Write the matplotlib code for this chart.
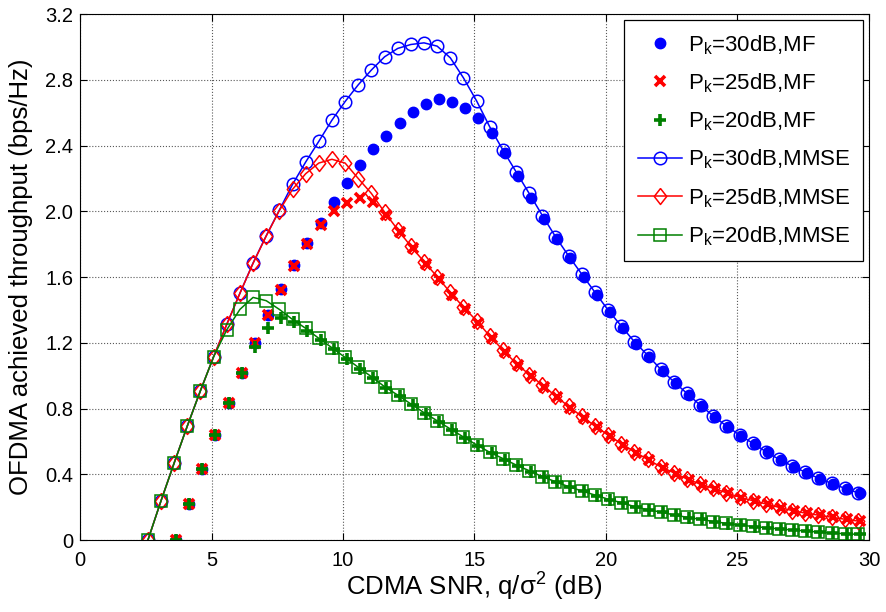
import numpy as np
import matplotlib.pyplot as plt
from matplotlib.ticker import FixedLocator, FuncFormatter

plt.rcParams['font.family'] = ['Liberation Sans', 'DejaVu Sans']
plt.rcParams['mathtext.fontset'] = 'custom'
plt.rcParams['mathtext.rm'] = 'Liberation Sans'
plt.rcParams['mathtext.it'] = 'Liberation Sans'

# SNR grid of the MMSE curves (dB)
snr_mmse = [2.58, 3.08, 3.58, 4.08, 4.58, 5.08, 5.58, 6.08, 6.58, 7.08,
            7.58, 8.08, 8.58, 9.08, 9.58, 10.08, 10.58, 11.08, 11.58, 12.08,
            12.58, 13.08, 13.58, 14.08, 14.58, 15.08, 15.58, 16.08, 16.58, 17.08,
            17.58, 18.08, 18.58, 19.08, 19.58, 20.08, 20.58, 21.08, 21.58, 22.08,
            22.58, 23.08, 23.58, 24.08, 24.58, 25.08, 25.58, 26.08, 26.58, 27.08,
            27.58, 28.08, 28.58, 29.08, 29.58]

# SNR grid of the MF points (dB)
snr_mf = [3.65, 4.15, 4.65, 5.15, 5.65, 6.15, 6.65, 7.15, 7.65, 8.15,
          8.65, 9.15, 9.65, 10.15, 10.65, 11.15, 11.65, 12.15, 12.65, 13.15,
          13.65, 14.15, 14.65, 15.15, 15.65, 16.15, 16.65, 17.15, 17.65, 18.15,
          18.65, 19.15, 19.65, 20.15, 20.65, 21.15, 21.65, 22.15, 22.65, 23.15,
          23.65, 24.15, 24.65, 25.15, 25.65, 26.15, 26.65, 27.15, 27.65, 28.15,
          28.65, 29.15, 29.65]

mmse_30 = [0.0, 0.24, 0.47, 0.695, 0.91, 1.116, 1.313, 1.502, 1.686, 1.852,
           2.008, 2.164, 2.30, 2.426, 2.555, 2.668, 2.77, 2.86, 2.94, 2.991,
           3.015, 3.025, 3.005, 2.934, 2.812, 2.672, 2.514, 2.373, 2.241, 2.109,
           1.975, 1.846, 1.729, 1.618, 1.508, 1.40, 1.303, 1.207, 1.126, 1.04,
           0.964, 0.893, 0.822, 0.756, 0.695, 0.640, 0.590, 0.539, 0.492, 0.452,
           0.414, 0.377, 0.346, 0.316, 0.289]

mmse_25 = [0.0, 0.24, 0.47, 0.695, 0.91, 1.116, 1.313, 1.502, 1.684, 1.85,
           2.005, 2.134, 2.229, 2.294, 2.317, 2.294, 2.20, 2.109, 1.995, 1.889,
           1.788, 1.694, 1.603, 1.507, 1.418, 1.335, 1.242, 1.157, 1.076, 1.008,
           0.944, 0.878, 0.814, 0.753, 0.695, 0.640, 0.588, 0.539, 0.492, 0.447,
           0.411, 0.373, 0.342, 0.316, 0.289, 0.262, 0.241, 0.221, 0.200, 0.181,
           0.165, 0.153, 0.140, 0.128, 0.117]

mmse_20 = [0.0, 0.24, 0.47, 0.695, 0.91, 1.116, 1.28, 1.404, 1.477, 1.457,
           1.404, 1.343, 1.289, 1.228, 1.171, 1.112, 1.052, 0.995, 0.934, 0.883,
           0.829, 0.776, 0.727, 0.677, 0.628, 0.580, 0.535, 0.497, 0.458, 0.423,
           0.387, 0.356, 0.326, 0.300, 0.275, 0.250, 0.229, 0.205, 0.186, 0.172,
           0.154, 0.140, 0.128, 0.114, 0.103, 0.093, 0.084, 0.077, 0.069, 0.063,
           0.057, 0.050, 0.044, 0.040, 0.036]

mf_30 = [0.0, 0.221, 0.435, 0.64, 0.835, 1.017, 1.199, 1.37, 1.526, 1.674,
         1.81, 1.931, 2.058, 2.174, 2.281, 2.377, 2.46, 2.539, 2.606, 2.652,
         2.683, 2.663, 2.626, 2.571, 2.478, 2.353, 2.215, 2.079, 1.951, 1.83,
         1.714, 1.602, 1.491, 1.387, 1.290, 1.196, 1.115, 1.03, 0.955, 0.884,
         0.814, 0.749, 0.689, 0.634, 0.585, 0.534, 0.487, 0.448, 0.410, 0.374,
         0.343, 0.313, 0.287]

mf_25 = [0.0, 0.221, 0.435, 0.64, 0.835, 1.017, 1.199, 1.37, 1.522, 1.67,
         1.80, 1.92, 2.004, 2.052, 2.08, 2.055, 1.978, 1.876, 1.776, 1.681,
         1.590, 1.494, 1.406, 1.322, 1.230, 1.145, 1.067, 0.999, 0.935, 0.869,
         0.805, 0.745, 0.688, 0.633, 0.581, 0.532, 0.486, 0.442, 0.406, 0.369,
         0.339, 0.313, 0.286, 0.259, 0.239, 0.219, 0.198, 0.179, 0.164, 0.152,
         0.139, 0.127, 0.116]

mf_20 = [0.0, 0.221, 0.435, 0.64, 0.835, 1.017, 1.178, 1.289, 1.35, 1.33,
         1.275, 1.215, 1.163, 1.104, 1.044, 0.987, 0.927, 0.876, 0.822, 0.769,
         0.720, 0.670, 0.621, 0.574, 0.530, 0.491, 0.453, 0.418, 0.383, 0.352,
         0.323, 0.297, 0.272, 0.247, 0.226, 0.203, 0.184, 0.170, 0.152, 0.138,
         0.127, 0.113, 0.102, 0.092, 0.083, 0.076, 0.068, 0.062, 0.056, 0.049,
         0.044, 0.040, 0.036]

blue = (0, 0, 1)
red = (1, 0, 0)
green = (0, 0.5, 0)

fig = plt.figure(figsize=(8.86, 6.12), dpi=100)
ax = fig.add_axes([0.0903, 0.1172, 0.8905, 0.8598])

ax.plot(snr_mf, mf_30, linestyle='none', marker='o', ms=7.5, color=blue,
        mec=blue, label='P$_\\mathregular{k}$=30dB,MF')
ax.plot(snr_mf, mf_25, linestyle='none', marker='x', ms=6.5, mew=2.6, color=red,
        label='P$_\\mathregular{k}$=25dB,MF')
ax.plot(snr_mf, mf_20, linestyle='none', marker='+', ms=8, mew=2.6, color=green,
        label='P$_\\mathregular{k}$=20dB,MF')

diamond = [(0, 1), (0.78, 0), (0, -1), (-0.78, 0), (0, 1)]
ax.plot(snr_mmse, mmse_30, '-', marker='o', ms=9, mfc='none', mec=blue, mew=1.1,
        color=blue, lw=1.1, label='P$_\\mathregular{k}$=30dB,MMSE')
ax.plot(snr_mmse, mmse_25, '-', marker=diamond, ms=11.5, mfc='none', mec=red, mew=1.1,
        color=red, lw=1.1, label='P$_\\mathregular{k}$=25dB,MMSE')
ax.plot(snr_mmse, mmse_20, '-', marker='s', ms=8.3, mfc='none', mec=green, mew=1.1,
        color=green, lw=1.1, label='P$_\\mathregular{k}$=20dB,MMSE')

ax.set_xlim(0, 30)
ax.set_ylim(0, 3.2)
ax.xaxis.set_major_locator(FixedLocator([0, 5, 10, 15, 20, 25, 30]))
ax.yaxis.set_major_locator(FixedLocator([0, 0.4, 0.8, 1.2, 1.6, 2.0, 2.4, 2.8, 3.2]))
ax.yaxis.set_major_formatter(FuncFormatter(lambda v, p: '0' if v == 0 else '%.1f' % v))
ax.tick_params(direction='in', top=True, right=True, labelsize=14.5, length=5, width=0.8)
ax.tick_params(axis='x', pad=8)
ax.tick_params(axis='y', pad=5)
ax.grid(True, linestyle=':', color='0.35', linewidth=0.8)
for s in ax.spines.values():
    s.set_linewidth(0.8)

ax.set_xlabel('CDMA SNR, q/\u03c3$^\\mathregular{2}$ (dB)', fontsize=18.5, labelpad=0.5)
ax.set_ylabel('OFDMA achieved throughput (bps/Hz)', fontsize=18.5, labelpad=9)

leg = ax.legend(loc='upper right', fontsize=16, frameon=True, fancybox=False,
                edgecolor='black', framealpha=1, handlelength=2.0,
                handletextpad=0.25, borderpad=0.6,
                labelspacing=0.66, borderaxespad=0.25, numpoints=1)
leg.get_frame().set_linewidth(0.9)

fig.savefig('out.png', dpi=100)
